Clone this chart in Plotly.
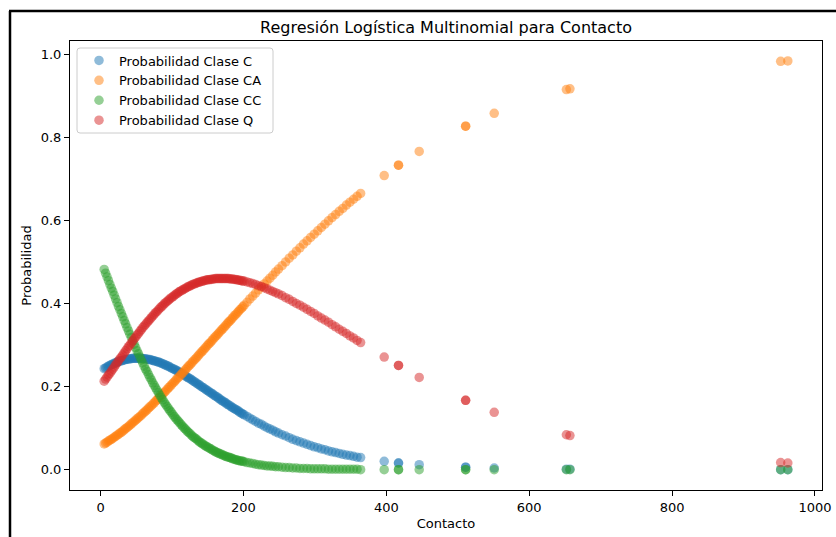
import plotly.graph_objects as go

# Contacto values and predicted class probabilities
contacto = [
    5, 7, 9, 11, 13, 15, 17, 19, 21, 23, 25, 27, 29, 31, 33, 35, 37, 39, 41, 43,
    45, 47, 49, 51, 53, 55, 57, 59, 61, 63, 65, 67, 69, 71, 73, 75, 77, 79, 81, 83,
    85, 87, 89, 91, 93, 95, 97, 99, 101, 103, 105, 107, 109, 111, 113, 115, 117, 119, 121, 123,
    125, 127, 129, 131, 133, 135, 137, 139, 141, 143, 145, 147, 149, 151, 153, 155, 157, 159, 161, 163,
    165, 167, 169, 171, 173, 175, 177, 179, 181, 183, 185, 187, 189, 191, 193, 195, 197, 199, 201,
    205, 209, 213, 217, 221, 225, 229, 233, 237, 241, 245, 249,
    254, 259, 264, 269, 274, 279, 284, 289, 294, 299, 304, 309, 314, 319, 324, 329, 334, 339, 344, 349,
    354, 359, 364,
    397, 417, 417, 446, 511, 511, 551, 652, 657, 952, 962,
]

prob_c = [
    .243, .245, .247, .249, .251, .253, .254, .256, .257, .259, .260, .261, .262, .263, .264, .265, .266, .266, .267, .267,
    .268, .268, .268, .268, .268, .268, .268, .267, .267, .267, .266, .265, .265, .264, .263, .262, .261, .260, .259, .258,
    .256, .255, .253, .252, .250, .249, .247, .245, .243, .242, .240, .238, .236, .234, .232, .230, .228, .225, .223, .221,
    .219, .217, .214, .212, .210, .207, .205, .203, .200, .198, .196, .193, .191, .189, .186, .184, .182, .179, .177, .175,
    .172, .170, .167, .165, .163, .161, .158, .156, .154, .151, .149, .147, .145, .143, .141, .138, .136, .134, .132,
    .128, .124, .120, .116, .112, .109, .105, .101, .098, .095, .091, .088,
    .084, .081, .077, .073, .070, .067, .064, .061, .058, .055, .053, .050, .048, .045, .043, .041, .039, .037, .035, .034,
    .032, .030, .029,
    .020, .016, .016, .012, .006, .006, .004, .001, .001, .000, .000,
]

prob_ca = [
    .062, .064, .066, .069, .071, .073, .075, .078, .080, .083, .085, .088, .090, .093, .096, .099, .101, .104, .107, .110,
    .113, .116, .119, .122, .125, .128, .131, .135, .138, .141, .144, .148, .151, .154, .158, .161, .165, .168, .172, .175,
    .179, .182, .186, .189, .193, .197, .200, .204, .208, .211, .215, .219, .222, .226, .230, .233, .237, .241, .245, .249,
    .252, .256, .260, .264, .267, .271, .275, .279, .283, .286, .290, .294, .298, .302, .305, .309, .313, .317, .321, .324,
    .328, .332, .336, .339, .343, .347, .351, .355, .358, .362, .366, .370, .373, .377, .381, .385, .388, .392, .396,
    .403, .411, .418, .425, .433, .440, .447, .454, .461, .468, .476, .483,
    .491, .500, .509, .517, .526, .534, .543, .551, .559, .567, .575, .583, .591, .599, .607, .614, .622, .629, .637, .644,
    .651, .658, .665,
    .708, .733, .733, .766, .827, .827, .858, .915, .917, .983, .984,
]

prob_cc = [
    .482, .473, .464, .455, .446, .437, .429, .420, .411, .402, .393, .385, .376, .368, .359, .351, .342, .334, .326, .318,
    .310, .302, .294, .286, .279, .271, .264, .257, .249, .242, .236, .229, .222, .216, .209, .203, .197, .191, .185, .179,
    .173, .168, .162, .157, .152, .147, .142, .138, .133, .128, .124, .120, .116, .112, .108, .104, .100, .097, .093, .090,
    .087, .083, .080, .077, .075, .072, .069, .066, .064, .062, .059, .057, .055, .053, .051, .049, .047, .045, .043, .041,
    .040, .038, .037, .035, .034, .032, .031, .030, .029, .028, .026, .025, .024, .023, .022, .021, .021, .020, .019,
    .017, .016, .015, .013, .012, .011, .010, .009, .009, .008, .007, .007,
    .006, .005, .005, .004, .004, .003, .003, .003, .002, .002, .002, .002, .002, .001, .001, .001, .001, .001, .001, .001,
    .001, .001, .000,
    .000, .000, .000, .000, .000, .000, .000, .000, .000, .000, .000,
]

prob_q = [
    .213, .218, .223, .228, .232, .237, .242, .247, .252, .257, .262, .267, .271, .276, .281, .286, .291, .296, .300, .305,
    .310, .315, .319, .324, .328, .333, .337, .342, .346, .350, .354, .358, .362, .366, .370, .374, .378, .381, .385, .389,
    .392, .395, .399, .402, .405, .408, .411, .414, .416, .419, .422, .424, .427, .429, .431, .433, .435, .437, .439, .441,
    .442, .444, .446, .447, .448, .450, .451, .452, .453, .454, .455, .456, .457, .457, .458, .458, .459, .459, .460, .460,
    .460, .460, .460, .460, .460, .460, .460, .460, .459, .459, .459, .458, .458, .457, .456, .456, .455, .454, .454,
    .452, .450, .448, .446, .443, .441, .438, .435, .432, .429, .426, .423,
    .419, .414, .410, .405, .400, .396, .391, .386, .381, .376, .370, .365, .360, .355, .349, .344, .338, .333, .328, .322,
    .317, .311, .306,
    .271, .251, .251, .222, .167, .167, .138, .084, .082, .017, .016,
]

series = [
    ("Probabilidad Clase C", prob_c, "#1f77b4"),
    ("Probabilidad Clase CA", prob_ca, "#ff7f0e"),
    ("Probabilidad Clase CC", prob_cc, "#2ca02c"),
    ("Probabilidad Clase Q", prob_q, "#d62728"),
]

W, H = 836, 537
L, R, T, B = 70, 14, 41, 47
pw, ph = W - L - R, H - T - B


def px_x(p):
    return (p - L) / pw


def px_y(p):
    return (H - B - p) / ph


fig = go.Figure()
for name, vals, color in series:
    fig.add_trace(go.Scatter(
        x=contacto, y=vals, mode="markers", name=name,
        marker=dict(size=9.5, color=color, opacity=0.5, line=dict(width=0)),
    ))

font = dict(family="DejaVu Sans", size=13, color="#000000")
axis_common = dict(
    showgrid=False, zeroline=False, showline=True, mirror=True, automargin=False,
    linecolor="#000000", linewidth=1, ticks="outside", ticklen=5,
    tickwidth=1, tickcolor="#000000", tickfont=font,
)

# Rounded legend frame (pixel box converted to paper coordinates)
lx0, ly0, lx1, ly1, rad = 77, 48, 273, 133, 3
x0, x1 = px_x(lx0), px_x(lx1)
y0, y1 = px_y(ly1), px_y(ly0)
rx, ry = rad / pw, rad / ph
legend_path = (
    f"M {x0 + rx},{y0} L {x1 - rx},{y0} Q {x1},{y0} {x1},{y0 + ry} "
    f"L {x1},{y1 - ry} Q {x1},{y1} {x1 - rx},{y1} "
    f"L {x0 + rx},{y1} Q {x0},{y1} {x0},{y1 - ry} "
    f"L {x0},{y0 + ry} Q {x0},{y0} {x0 + rx},{y0} Z"
)

fig.update_layout(
    width=W, height=H, autosize=False,
    margin=dict(l=L, r=R, t=T, b=B, pad=0, autoexpand=False),
    paper_bgcolor="white", plot_bgcolor="white",
    font=font,
    title=dict(text="Regresión Logística Multinomial para Contacto",
               x=0.5, xref="paper", xanchor="center",
               y=1 - 27 / H, yref="container", yanchor="middle",
               font=dict(family="DejaVu Sans", size=16, color="#000000")),
    xaxis=dict(range=[-42.85, 1009.85], tickvals=[0, 200, 400, 600, 800, 1000],
               title=dict(text="Contacto", font=font, standoff=5), **axis_common),
    yaxis=dict(range=[-0.049, 1.032], tickvals=[0, 0.2, 0.4, 0.6, 0.8, 1.0],
               tickformat=".1f",
               title=dict(text="Probabilidad", font=font, standoff=6), **axis_common),
    legend=dict(x=px_x(79), y=px_y(45.5), xanchor="left", yanchor="top",
                bgcolor="rgba(0,0,0,0)", borderwidth=0,
                font=font, itemsizing="trace"),
    showlegend=True,
    shapes=[
        dict(type="path", xref="paper", yref="paper", path=legend_path,
             fillcolor="rgba(255,255,255,0.8)", line=dict(color="#cccccc", width=1),
             layer="above"),
    ],
)

# Frame lines along the left and top edges of the page
frame = dict(color="#000000", width=2.5)
fig.add_shape(type="line", xref="paper", yref="paper",
              x0=px_x(10), y0=px_y(H + 5), x1=px_x(10), y1=px_y(11), line=frame)
fig.add_shape(type="line", xref="paper", yref="paper",
              x0=px_x(9), y0=px_y(11), x1=px_x(W + 5), y1=px_y(11), line=frame)

fig.write_html("out.html")
